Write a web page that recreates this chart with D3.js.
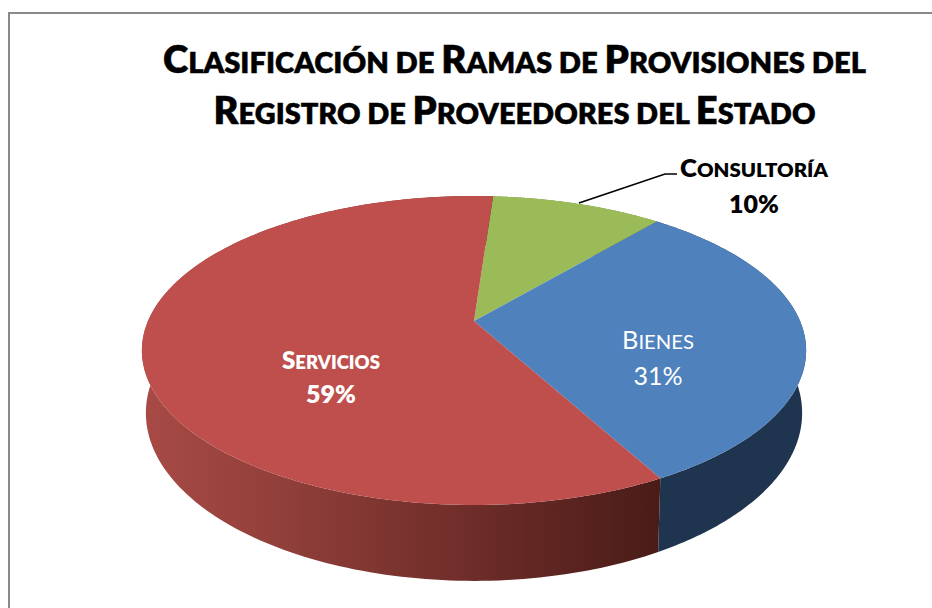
<!DOCTYPE html>
<html><head><meta charset="utf-8">
<script src="https://cdn.jsdelivr.net/npm/d3@7"></script>
<style>
html,body{margin:0;padding:0;background:#fff}
svg{display:block}
text{font-family:Lato,"Open Sans",sans-serif;text-anchor:middle}
</style></head><body>
<svg id="c" width="932" height="608"></svg>
<script>
const categories=["Consultoría","Bienes","Servicios"];
const seriesValues=[10,31,59];
const percentLabels=["10%","31%","59%"];
const titleLines=["Clasificación de Ramas de Provisiones del","Registro de Proveedores del Estado"];
const topColors=["#9BBB59","#4F81BD","#BE4F4C"];

const svg=d3.select("#c");
// border
svg.append("path").attr("d","M9,608V13H932").attr("fill","none").attr("stroke","#8a8a8a").attr("stroke-width",2);

// perspective projection of the disc
const cx=474,c=-0.191,a=87.5,b=321,R=326;
function proj(t,level){
  const w=-Math.cos(t),s=Math.sin(t),d=1+c*w;
  const x=R*s/d, y=(a*w+b)/d;
  if(!level) return [cx+x,y];
  return [cx+0.988*x,413+1.087*(y-350.5)];
}
const pie=d3.pie().sort(null).startAngle(4*Math.PI/180).endAngle(364*Math.PI/180);
const arcs=pie(seriesValues);
const arcPts=(s,e,l)=>d3.range(0,181).map(i=>proj(s+(e-s)*i/180,l));
const line=d3.line();

const defs=svg.append("defs");
const grad=defs.append("linearGradient").attr("id","sideRed").attr("gradientUnits","userSpaceOnUse")
  .attr("x1",142).attr("x2",660).attr("y1",0).attr("y2",0);
[[0,"#A84A45"],[0.25,"#93403B"],[0.5,"#7B332F"],[0.75,"#632723"],[1,"#491C18"]]
  .forEach(d=>grad.append("stop").attr("offset",d[0]).attr("stop-color",d[1]));
const sideFill=["#6e8a3a","#1F344F","url(#sideRed)"];

// side walls
svg.append("g").selectAll("path").data(arcs).join("path")
  .attr("d",d=>line(arcPts(d.startAngle,d.endAngle,0).concat(arcPts(d.startAngle,d.endAngle,1).reverse()))+"Z")
  .attr("fill",(d,i)=>sideFill[i]);
// top surface
svg.append("g").selectAll("path").data(arcs).join("path")
  .attr("d",d=>line([[cx,b]].concat(arcPts(d.startAngle,d.endAngle,0)))+"Z")
  .attr("fill",(d,i)=>topColors[i]);

// small-caps text: capitals at full size, the rest as smaller capitals
function smallCaps(parent,str,o){
  const t=parent.append("text").attr("x",o.x).attr("y",o.y).attr("fill",o.fill)
    .attr("font-weight",o.weight).attr("font-size",o.big)
    .attr("textLength",o.len).attr("lengthAdjust","spacingAndGlyphs")
    .attr("xml:space","preserve");
  str.match(/[A-ZÁÉÍÓÚ]+|[^A-ZÁÉÍÓÚ]+/g).forEach(r=>{
    const up=r===r.toUpperCase()&&/[A-Z]/.test(r);
    t.append("tspan").attr("font-size",up?o.big:o.small)
      .style("text-transform","uppercase").text(r);
  });
  return t;
}
const titleG=svg.append("g");
const titleWidths=[703,602],titleBase=[73,124];
titleLines.forEach((s,i)=>smallCaps(titleG,s,{x:514.5,y:titleBase[i],big:37.5,small:28.5,weight:800,fill:"#000",len:titleWidths[i]})
  .attr("stroke","#000").attr("stroke-width",0.4));

// leader
svg.append("path").attr("d","M579,203L665,174L677,174").attr("fill","none").attr("stroke","#000").attr("stroke-width",1.7);

// data labels
const labelPos=[{x:754,y1:177,y2:213,fill:"#000",w:800,big:24,small:19,len:148},
                {x:658,y1:349,y2:385,fill:"#fff",w:400,big:25,small:20,len:72},
                {x:331,y1:369,y2:403,fill:"#fff",w:800,big:24,small:18.5,len:98}];
const g=svg.append("g");
categories.forEach((n,i)=>{
  const p=labelPos[i];
  smallCaps(g,n,{x:p.x,y:p.y1,big:p.big,small:p.small,weight:p.w,fill:p.fill,len:p.len});
  g.append("text").attr("x",p.x).attr("y",p.y2).attr("font-size",25).attr("font-weight",p.w).attr("fill",p.fill).text(percentLabels[i]);
});
</script></body></html>
